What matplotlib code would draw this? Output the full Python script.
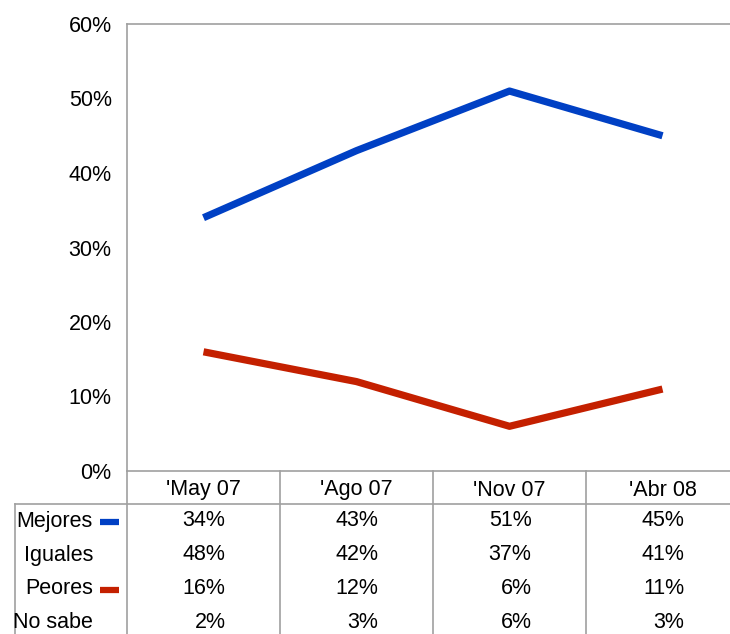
import matplotlib
matplotlib.use("Agg")
import matplotlib.pyplot as plt
from matplotlib.transforms import blended_transform_factory

plt.rcParams['font.family'] = ['Liberation Sans', 'DejaVu Sans']

categories = ["'May 07", "'Ago 07", "'Nov 07", "'Abr 08"]
mejores = [34, 43, 51, 45]
iguales = [48, 42, 37, 41]
peores = [16, 12, 6, 11]
no_sabe = [2, 3, 6, 3]
row_labels = ["Mejores", "Iguales", "Peores", "No sabe"]
yticks = [0, 10, 20, 30, 40, 50, 60]

BLUE = '#0040C4'
RED = '#C42000'
GRID = '#A0A0A0'
FS = 15.5

W, H = 730, 634
fig = plt.figure(figsize=(W / 100, H / 100), dpi=100)
# axes pixel box: left 127, right 739, top 24, bottom 471
ax = fig.add_axes([127 / W, (H - 471) / H, 612 / W, 447 / H])

x = list(range(len(categories)))
ax.plot(x, mejores, color=BLUE, lw=5.2, solid_capstyle='butt')
ax.plot(x, peores, color=RED, lw=5.2, solid_capstyle='butt')

ax.set_xlim(-0.5, 3.5)
ax.set_ylim(0, 60)
ax.set_yticks(yticks)
ax.set_yticklabels([f"{v}%" for v in yticks], fontsize=FS)
ax.tick_params(axis='y', length=0, pad=11)
ax.set_xticks([])
for s in ['left', 'top', 'bottom']:
    ax.spines[s].set_color(GRID)
    ax.spines[s].set_linewidth(1.2)
ax.spines['right'].set_visible(False)

axh = 447.0
def fy(px):
    return (471 - px) / axh

trans = blended_transform_factory(ax.transData, ax.transAxes)
def fxd(px):
    return (px - 203.5) / 153.0

for i, c in enumerate(categories):
    ax.text(i, fy(490), c, transform=trans, ha='center', va='center',
            fontsize=FS, clip_on=False)

ax.plot([fxd(15), 3.5], [fy(504), fy(504)], transform=trans, color=GRID,
        lw=1.2, clip_on=False)
for xv in [-0.5, 0.5, 1.5, 2.5]:
    ax.plot([xv, xv], [fy(471), fy(640)], transform=trans, color=GRID,
            lw=1.2, clip_on=False)
ax.plot([fxd(15), fxd(15)], [fy(504), fy(640)], transform=trans, color=GRID,
        lw=1.2, clip_on=False)

rows = [mejores, iguales, peores, no_sabe]
row_y = [521, 555, 589, 622]
swatch = [BLUE, None, RED, None]
for r, (lab, vals, yp, sw) in enumerate(zip(row_labels, rows, row_y, swatch)):
    ax.text(fxd(93), fy(yp), lab, transform=trans, ha='right', va='center',
            fontsize=FS, clip_on=False)
    if sw:
        ax.plot([fxd(100), fxd(119)], [fy(yp + 1), fy(yp + 1)], transform=trans,
                color=sw, lw=4.5, solid_capstyle='butt', clip_on=False)
    for i, v in enumerate(vals):
        ax.text(i + 22 / 153, fy(yp), f"{v}%", transform=trans, ha='right',
                va='center', fontsize=FS, clip_on=False)

fig.savefig('out.png', dpi=100)
